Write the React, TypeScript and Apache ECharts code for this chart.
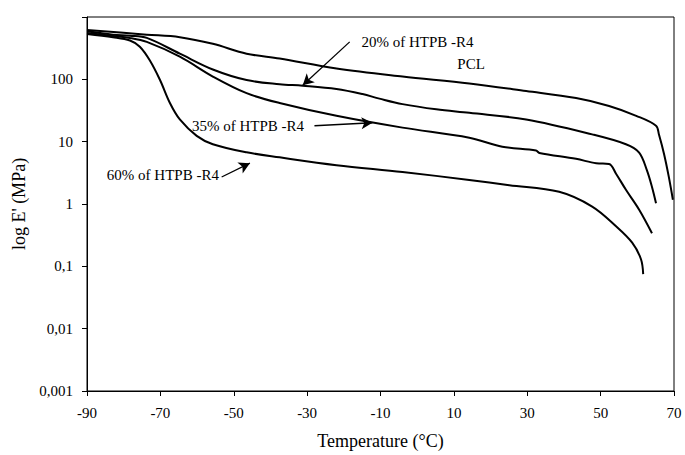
import React, { useEffect, useRef } from "react";
import * as echarts from "echarts";

// Storage modulus E' (MPa) versus temperature (°C), pairs of [T, E']
const pcl: [number, number][] = [
  [-90, 618], [-73.7, 521], [-64.7, 474], [-55.7, 371], [-46.5, 258], [-37.5, 215],
  [-22, 149], [-4, 111], [14.2, 86], [29.7, 65], [43.3, 50], [52.3, 37.4],
  [59.7, 26], [65.1, 18], [65.9, 13], [67.3, 6.3], [68.6, 2.7], [69.7, 1.17],
];
const htpb20: [number, number][] = [
  [-90, 590], [-82.9, 521], [-78.3, 502], [-73.7, 462], [-64.7, 258], [-55.7, 144],
  [-46.5, 97.5], [-37.5, 83.4], [-31.2, 79], [-22, 70], [-14.9, 58], [-10.3, 49],
  [-4, 40], [5.2, 33], [14.2, 29], [29.7, 22.7], [47.7, 13.1], [56.9, 9.1],
  [60.5, 6.7], [62.6, 3.5], [64, 1.88], [65.1, 1.03],
];
const htpb35: [number, number][] = [
  [-90, 554], [-82.9, 497], [-78.3, 462], [-73.7, 399], [-64.7, 231], [-55.7, 111],
  [-46.5, 60], [-37.5, 41.7], [-22, 26], [-4, 16.8], [14.2, 11.6], [23.2, 8.3],
  [32.4, 7.2], [33.3, 6.6], [43.3, 5.3], [48.8, 4.5], [52.3, 4.4], [54.2, 3.06],
  [56.9, 1.69], [60.5, 0.81], [64, 0.34],
];
const htpb60: [number, number][] = [
  [-90, 535], [-82.9, 474], [-78.3, 419], [-75.6, 333], [-72.9, 202], [-70.1, 97.5],
  [-67.4, 41.7], [-64.7, 22.7], [-60.1, 12.4], [-55.7, 9.1], [-46.5, 6.75], [-37.5, 5.6],
  [-22, 4.2], [-4, 3.26], [14.2, 2.43], [25.1, 2.0], [38.7, 1.57], [47.7, 0.91],
  [54.2, 0.44], [58.6, 0.24], [61, 0.13], [61.6, 0.075],
];

// Curve captions, anchored at the left edge of each text in data space
const captions: { text: string; at: [number, number] }[] = [
  { text: "20% of HTPB -R4", at: [-15.2, 399] },
  { text: "PCL", at: [10.95, 179] },
  { text: "35% of HTPB -R4", at: [-61.4, 18] },
  { text: "60% of HTPB -R4", at: [-84.6, 2.92] },
];

// Pointer arrows from captions to curves: [from, to]
const arrows: [[number, number], [number, number]][] = [
  [[-18.4, 399], [-31.2, 80.4]],
  [[-28.0, 18.0], [-12.2, 20.1]],
  [[-53.3, 2.71], [-45.6, 4.52]],
];

const FONT = "Liberation Serif";

function fmtTick(v: number): string {
  if (v >= 1000) return "";
  return String(Number(v.toPrecision(6))).replace(".", ",");
}

export default function App() {
  const ref = useRef<HTMLDivElement>(null);

  useEffect(() => {
    document.body.style.margin = "0";
    if (!ref.current) return;
    const chart = echarts.init(ref.current, undefined, { renderer: "svg" });

    const lineStyle = { color: "#000", width: 2 };
    const makeSeries = (name: string, data: [number, number][], extra: any = {}) => ({
      name,
      type: "line",
      data,
      showSymbol: false,
      symbol: "none",
      smooth: 0.35,
      lineStyle,
      itemStyle: { color: "#000" },
      ...extra,
    });

    chart.setOption({
      animation: false,
      backgroundColor: "#fff",
      textStyle: { fontFamily: FONT, color: "#000" },
      grid: {
        left: 87,
        right: 11,
        top: 17,
        bottom: 58,
        show: true,
        borderColor: "#000",
        borderWidth: 1,
      },
      xAxis: {
        type: "value",
        min: -90,
        max: 70,
        interval: 20,
        name: "Temperature (°C)",
        nameLocation: "middle",
        nameGap: 41,
        nameTextStyle: { fontFamily: FONT, fontSize: 18, color: "#000" },
        axisLine: { show: true, onZero: false, lineStyle: { color: "#000", width: 1 } },
        axisTick: { show: true, length: 5, lineStyle: { color: "#000" } },
        axisLabel: { fontFamily: FONT, fontSize: 15, color: "#000", margin: 14 },
        splitLine: { show: false },
      },
      yAxis: {
        type: "log",
        logBase: 10,
        min: 0.001,
        max: 1000,
        name: "log E' (MPa)",
        nameLocation: "middle",
        nameGap: 54,
        nameRotate: 90,
        nameTextStyle: { fontFamily: FONT, fontSize: 18, color: "#000" },
        axisLine: { show: true, onZero: false, lineStyle: { color: "#000", width: 1 } },
        axisTick: { show: true, length: 5, lineStyle: { color: "#000" } },
        axisLabel: {
          fontFamily: FONT,
          fontSize: 15,
          color: "#000",
          margin: 14,
          formatter: fmtTick,
        },
        splitLine: { show: false },
        minorTick: { show: false },
      },
      series: [
        makeSeries("PCL", pcl, {
          markPoint: {
            symbol: "circle",
            symbolSize: 0,
            silent: true,
            data: captions.map((c) => ({
              coord: c.at,
              label: {
                show: true,
                position: "right",
                distance: 0,
                formatter: c.text,
                fontFamily: FONT,
                fontSize: 15,
                color: "#000",
              },
            })),
          },
          markLine: {
            silent: true,
            symbol: ["none", "arrow"],
            symbolSize: [9, 11],
            label: { show: false },
            lineStyle: { color: "#000", width: 1.3, type: "solid" },
            data: arrows.map(([a, b]) => [{ coord: a }, { coord: b }]),
          },
        }),
        makeSeries("20% of HTPB -R4", htpb20),
        makeSeries("35% of HTPB -R4", htpb35),
        makeSeries("60% of HTPB -R4", htpb60),
      ],
    });

    return () => chart.dispose();
  }, []);

  return <div ref={ref} style={{ width: 685, height: 455 }} />;
}
